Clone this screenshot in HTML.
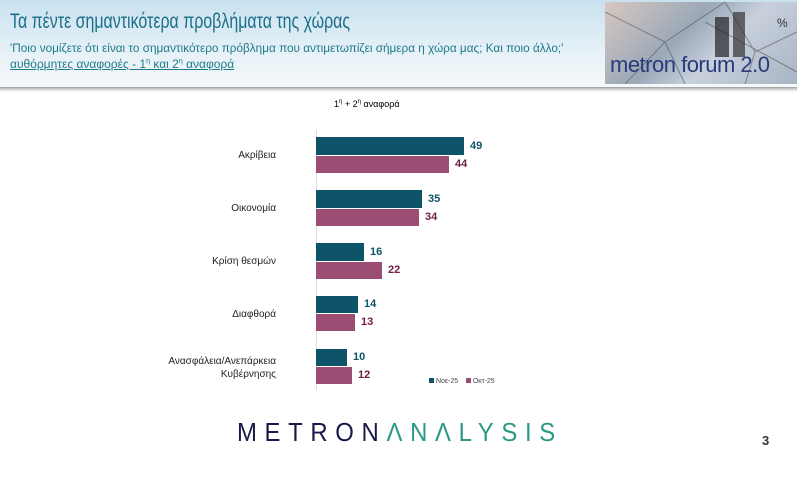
<!DOCTYPE html>
<html><head><meta charset="utf-8"><style>
body{margin:0;width:797px;height:502px;background:#fff;position:relative;overflow:hidden;font-family:"Liberation Sans","DejaVu Sans",sans-serif}
.a{position:absolute}
.hdr{left:0;top:0;width:797px;height:87px;background:linear-gradient(#c9e1ef,#e6f1f7 60%,#f4f8fa)}
.sh{left:0;top:87px;width:797px;height:5px;background:linear-gradient(#9a9a9a,#d8d8d8,#fff)}
.lbl{font-size:10px;color:#222;text-align:right;width:180px;left:96px}
.v{font-size:11px;font-weight:bold}
.n{background:#0e5468}.o{background:#9b4d73}
.vn{color:#0e5468}.vo{color:#6e1f45}
</style></head><body>
<div class="a hdr"></div>
<div class="a sh"></div>
<div class="a" style="left:10px;top:10px;font-size:21px;color:#1a6f88;white-space:nowrap;transform:scaleX(0.76);transform-origin:0 0">Τα πέντε σημαντικότερα προβλήματα της χώρας</div>
<div class="a" style="left:10px;top:41px;font-size:12px;color:#1f7a8c;white-space:nowrap;transform:scaleX(0.98);transform-origin:0 0">'Ποιο νομίζετε ότι είναι το σημαντικότερο πρόβλημα που αντιμετωπίζει σήμερα η χώρα μας; Και ποιο άλλο;'</div>
<div class="a" style="left:10px;top:57px;font-size:12px;color:#1f7a8c;text-decoration:underline">αυθόρμητες αναφορές - 1<sup style="font-size:7px">η</sup> και 2<sup style="font-size:7px">η</sup> αναφορά</div>
<div class="a" style="left:605px;top:2px;width:192px;height:82px;background:linear-gradient(135deg,#d8c8c0,#9aa8b8 40%,#c8d0dc 60%,#a8b4c4);overflow:hidden">
<svg width="192" height="82" style="position:absolute;left:0;top:0"><g stroke="#555" stroke-width="1" fill="none" opacity=".6"><path d="M0 10L60 40L120 0M60 40L80 82M120 0L150 50L192 30M20 82L60 40M150 50L140 82M100 20L192 70"/></g><rect x="110" y="15" width="14" height="40" fill="#222" opacity=".7"/><rect x="128" y="10" width="12" height="45" fill="#333" opacity=".7"/><text x="172" y="25" font-size="12" fill="#333">%</text></svg>
<div class="a" style="left:5px;top:50px;font-size:22px;color:#2a3a7a;white-space:nowrap;letter-spacing:-0.5px">metron forum 2.0</div></div>
<div class="a" style="left:334px;top:99px;font-size:9px;color:#000">1<sup style="font-size:6px">η</sup> + 2<sup style="font-size:6px">η</sup> αναφορά</div>
<div class="a" style="left:316px;top:130px;width:1px;height:260px;background:#ddd"></div>

<div class="a lbl" style="top:150px">Ακρίβεια</div>
<div class="a n" style="left:316px;top:137px;width:148px;height:18px"></div>
<div class="a o" style="left:316px;top:156px;width:133px;height:17px"></div>
<div class="a v vn" style="left:470px;top:140px">49</div>
<div class="a v vo" style="left:455px;top:158px">44</div>

<div class="a lbl" style="top:203px">Οικονομία</div>
<div class="a n" style="left:316px;top:190px;width:106px;height:18px"></div>
<div class="a o" style="left:316px;top:209px;width:103px;height:17px"></div>
<div class="a v vn" style="left:428px;top:193px">35</div>
<div class="a v vo" style="left:425px;top:211px">34</div>

<div class="a lbl" style="top:256px">Κρίση θεσμών</div>
<div class="a n" style="left:316px;top:243px;width:48px;height:18px"></div>
<div class="a o" style="left:316px;top:262px;width:66px;height:17px"></div>
<div class="a v vn" style="left:370px;top:246px">16</div>
<div class="a v vo" style="left:388px;top:264px">22</div>

<div class="a lbl" style="top:309px">Διαφθορά</div>
<div class="a n" style="left:316px;top:296px;width:42px;height:17px"></div>
<div class="a o" style="left:316px;top:314px;width:39px;height:17px"></div>
<div class="a v vn" style="left:364px;top:298px">14</div>
<div class="a v vo" style="left:361px;top:316px">13</div>

<div class="a lbl" style="top:355px;line-height:13px">Ανασφάλεια/Ανεπάρκεια<br>Κυβέρνησης</div>
<div class="a n" style="left:316px;top:349px;width:31px;height:17px"></div>
<div class="a o" style="left:316px;top:367px;width:36px;height:17px"></div>
<div class="a v vn" style="left:353px;top:351px">10</div>
<div class="a v vo" style="left:358px;top:369px">12</div>

<div class="a" style="left:429px;top:378px;font-size:7px;color:#444;white-space:nowrap"><span style="display:inline-block;width:5px;height:5px;background:#0e5468"></span> Νοε-25 &nbsp;&nbsp; <span style="display:inline-block;width:5px;height:5px;background:#9b4d73"></span> Οκτ-25</div>

<div class="a" style="left:237px;top:417px;font-size:26px;letter-spacing:8.3px;white-space:nowrap;transform:scaleX(0.92);transform-origin:0 0"><span style="color:#1a1a4a">METRON</span><span style="color:#2a9a84">ΛNΛLYSIS</span></div>
<div class="a" style="left:762px;top:433px;font-size:13px;font-weight:bold;color:#333">3</div>
</body></html>
